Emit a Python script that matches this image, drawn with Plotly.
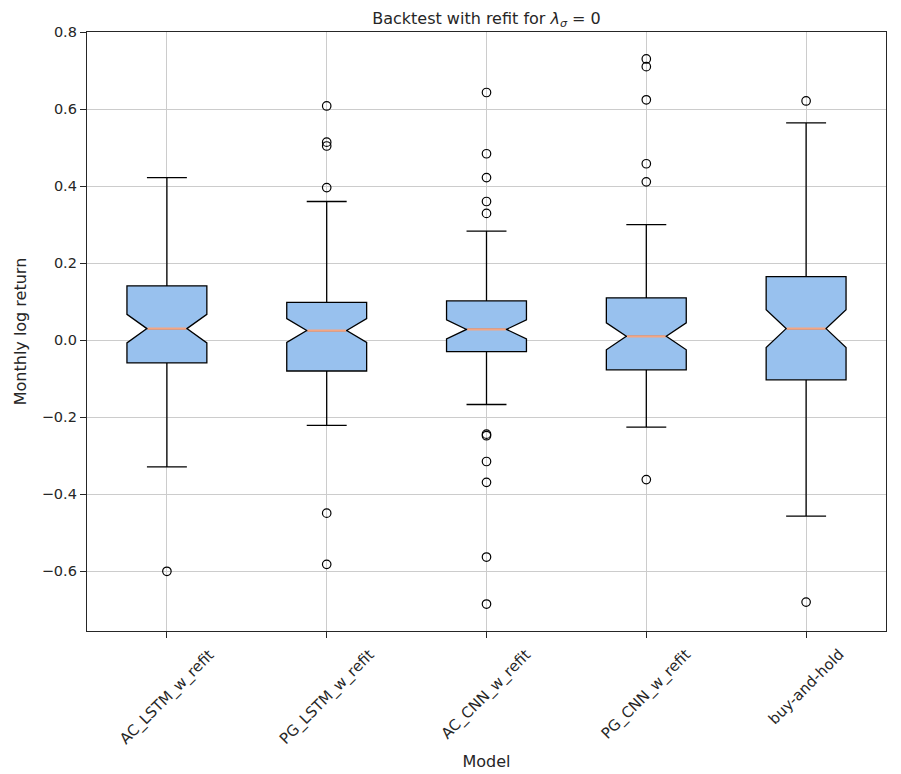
import plotly.graph_objects as go

# ===== data =====
models = ['AC_LSTM_w_refit', 'PG_LSTM_w_refit', 'AC_CNN_w_refit', 'PG_CNN_w_refit', 'buy-and-hold']

q1 = [-0.059, -0.080, -0.030, -0.077, -0.103]
median = [0.030, 0.025, 0.028, 0.010, 0.030]
q3 = [0.141, 0.098, 0.102, 0.110, 0.165]
low_whisker = [-0.329, -0.221, -0.167, -0.226, -0.457]
high_whisker = [0.422, 0.360, 0.283, 0.300, 0.564]
notch = [0.037, 0.031, 0.025, 0.035, 0.049]

outliers = {
    'AC_LSTM_w_refit': [-0.600],
    'PG_LSTM_w_refit': [0.608, 0.514, 0.504, 0.396, -0.449, -0.582],
    'AC_CNN_w_refit': [0.643, 0.484, 0.422, 0.360, 0.329,
                       -0.244, -0.248, -0.315, -0.369, -0.563, -0.685],
    'PG_CNN_w_refit': [0.730, 0.710, 0.624, 0.458, 0.411, -0.362],
    'buy-and-hold': [0.621, -0.680],
}

y_ticks = [-0.6, -0.4, -0.2, 0.0, 0.2, 0.4, 0.6, 0.8]

# ===== styling =====
FILL = '#98c1ee'
MEDIAN_COLOR = '#f4a582'
DARK = '#262626'
GRID = '#cccccc'
FONT = 'DejaVu Sans'
BOX_W = 0.5

pos = list(range(len(models)))

boxes = go.Box(x=pos, q1=q1, median=median, q3=q3,
               lowerfence=low_whisker, upperfence=high_whisker,
               notchspan=notch, notched=True, notchwidth=0.25,
               width=BOX_W, whiskerwidth=0.5, boxpoints=False,
               fillcolor=FILL, line=dict(color='black', width=1.3),
               hoverinfo='skip')

# orange median segments across the notch waist
med_x, med_y = [], []
for i, m in zip(pos, median):
    med_x.extend([i - BOX_W / 4 + 0.004, i + BOX_W / 4 - 0.004, None])
    med_y.extend([m, m, None])
medians = go.Scatter(x=med_x, y=med_y, mode='lines',
                     line=dict(color=MEDIAN_COLOR, width=2.2), hoverinfo='skip')

out_x, out_y = [], []
for i, name in enumerate(models):
    for v in outliers[name]:
        out_x.append(i)
        out_y.append(v)
fliers = go.Scatter(x=out_x, y=out_y, mode='markers',
                    marker=dict(symbol='circle-open', size=8.5, color='black',
                                line=dict(width=1.2)))

fig = go.Figure(data=[boxes, medians, fliers])

# rotated, centred category labels
for i, name in enumerate(models):
    fig.add_annotation(x=i, y=0, xref='x', yref='paper', text=name,
                       textangle=-45, showarrow=False, xanchor='center',
                       yanchor='top', yshift=-12,
                       font=dict(family=FONT, size=15, color=DARK))

fig.update_layout(
    width=893, height=766,
    margin=dict(l=79, r=15, t=24, b=143),
    paper_bgcolor='white', plot_bgcolor='white',
    showlegend=False,
    font=dict(family=FONT, color=DARK, size=14),
    title=dict(text='Backtest with refit for <i>λ</i><sub><i>σ</i></sub> = 0',
               xref='paper', x=0.5, xanchor='center', y=0.987, yanchor='middle',
               font=dict(family=FONT, size=16, color=DARK)),
    xaxis=dict(range=[-0.5, 4.5], tickvals=pos, ticktext=models,
               showticklabels=False, ticks='outside', ticklen=6,
               tickcolor=DARK, tickwidth=1.2, automargin=False,
               showgrid=True, gridcolor=GRID, gridwidth=1,
               showline=True, linecolor=DARK, linewidth=1.3, mirror=True,
               zeroline=False,
               title=dict(text='Model', standoff=118,
                          font=dict(family=FONT, size=16, color=DARK))),
    yaxis=dict(range=[-0.755, 0.8], tickvals=y_ticks, tickformat='.1f',
               ticks='outside', ticklen=6, tickcolor=DARK, tickwidth=1.2,
               tickfont=dict(family=FONT, size=14.5, color=DARK),
               automargin=False,
               showgrid=True, gridcolor=GRID, gridwidth=1,
               showline=True, linecolor=DARK, linewidth=1.3, mirror=True,
               zeroline=False,
               title=dict(text='Monthly log return', standoff=11,
                          font=dict(family=FONT, size=16, color=DARK))),
)

fig.write_html("out.html")
